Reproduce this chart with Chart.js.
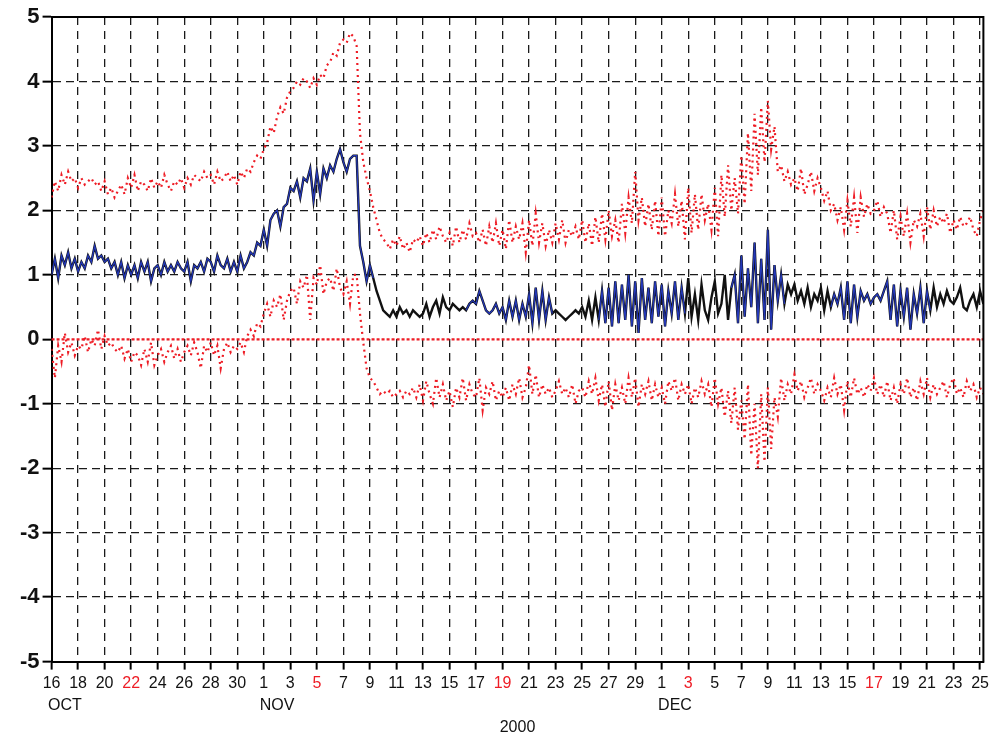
<!DOCTYPE html>
<html>
<head>
<meta charset="utf-8">
<script src="https://cdn.jsdelivr.net/npm/chart.js@4/dist/chart.umd.min.js"></script>
<style>
  body { margin: 0; background: #fff; }
  #wrap { width: 993px; height: 741px; }
</style>
</head>
<body>
<div id="wrap"><canvas id="myChart" width="993" height="741"></canvas></div>
<script>
// 6-hourly values, 4 per day, starting 16 Oct 2000 00Z
const stepDays = 0.25;

const xTickLabels = ['16','18','20','22','24','26','28','30',
  '1','3','5','7','9','11','13','15','17','19','21','23','25','27','29',
  '1','3','5','7','9','11','13','15','17','19','21','23','25'];
const redTicks = [3, 10, 17, 24, 31]; // sundays
const yTickLabels = ['-5','-4','-3','-2','-1','0','1','2','3','4','5'];

// ensemble mean (black)
const meanVals = [
  1.0,1.25,0.95,1.3, 1.15,1.35,1.1,1.25,
  1.05,1.2,1.1,1.3, 1.2,1.45,1.25,1.3,
  1.2,1.25,1.1,1.2, 1.0,1.2,0.95,1.15,
  1.0,1.15,0.95,1.2, 1.05,1.2,0.9,1.1,
  1.15,1.0,1.2,1.05, 1.15,1.05,1.2,1.1,
  1.05,1.2,0.9,1.15, 1.1,1.2,1.05,1.25,
  1.2,1.05,1.3,1.15, 1.1,1.25,1.05,1.2,
  1.05,1.3,1.1,1.2, 1.35,1.3,1.5,1.45,
  1.7,1.45,1.85,1.95, 2.0,1.75,2.05,2.1,
  2.35,2.3,2.45,2.2, 2.5,2.45,2.65,2.15,
  2.6,2.25,2.65,2.5, 2.7,2.6,2.8,2.95,
  2.75,2.6,2.8,2.85, 2.85,1.45,1.2,0.9,
  1.15,0.95,0.75,0.6, 0.45,0.4,0.35,0.45,
  0.35,0.5,0.4,0.45, 0.35,0.45,0.4,0.35,
  0.4,0.55,0.35,0.5, 0.6,0.4,0.65,0.5,
  0.45,0.55,0.5,0.45, 0.5,0.45,0.55,0.6,
  0.55,0.75,0.6,0.45, 0.4,0.45,0.55,0.4,
  0.5,0.3,0.6,0.35, 0.6,0.3,0.55,0.35,
  0.7,0.25,0.8,0.3, 0.75,0.3,0.65,0.4,
  0.45,0.4,0.35,0.3, 0.35,0.4,0.45,0.4,
  0.5,0.35,0.6,0.3, 0.65,0.3,0.75,0.25,
  0.8,0.2,0.9,0.25, 0.85,0.3,1.0,0.2,
  0.9,0.1,0.95,0.3, 0.8,0.25,0.9,0.35,
  0.85,0.2,0.75,0.4, 0.9,0.3,0.8,0.4,
  0.95,0.35,0.7,0.3, 0.85,0.45,0.3,0.65,
  0.9,0.4,0.55,1.0, 0.3,0.8,1.0,0.25,
  1.3,0.35,1.1,0.5, 1.5,0.25,1.25,0.3,
  1.7,0.15,1.15,0.6, 1.0,0.55,0.85,0.7,
  0.85,0.6,0.75,0.55, 0.8,0.5,0.7,0.6,
  0.8,0.45,0.75,0.5, 0.7,0.55,0.8,0.3,
  0.9,0.25,0.85,0.35, 0.75,0.6,0.7,0.55,
  0.65,0.7,0.6,0.75, 0.9,0.3,0.85,0.2,
  0.75,0.35,0.8,0.15, 0.7,0.4,0.8,0.25,
  0.75,0.45,0.8,0.5, 0.7,0.55,0.75,0.6,
  0.55,0.65,0.8,0.5, 0.45,0.6,0.7,0.5,
  0.75,0.55,0.6
];

// days where only the black curve shows (no blue)
const blueGaps = [[24.5, 31], [38, 41], [48, 51], [55.5, 58.5], [66.5, 71]];

// mean + spread (red, upper)
const upperVals = [
  2.2,2.45,2.3,2.55, 2.4,2.6,2.45,2.5,
  2.35,2.5,2.4,2.45, 2.5,2.4,2.45,2.3,
  2.45,2.25,2.35,2.2, 2.3,2.4,2.25,2.5,
  2.35,2.55,2.3,2.45, 2.4,2.3,2.5,2.35,
  2.45,2.35,2.55,2.4, 2.3,2.45,2.4,2.5,
  2.35,2.5,2.4,2.55, 2.5,2.45,2.6,2.5,
  2.55,2.4,2.6,2.45, 2.5,2.6,2.45,2.55,
  2.4,2.6,2.5,2.65, 2.6,2.75,2.85,2.8,
  2.95,3.05,3.3,3.2, 3.45,3.6,3.5,3.75,
  3.85,3.9,4.0,3.95, 4.05,4.0,3.9,4.05,
  3.95,4.1,4.05,4.25, 4.3,4.45,4.4,4.6,
  4.65,4.6,4.75,4.7, 4.55,3.2,2.75,2.5,
  2.3,2.05,1.85,1.65, 1.55,1.5,1.4,1.55,
  1.45,1.6,1.4,1.5, 1.35,1.55,1.5,1.6,
  1.45,1.65,1.5,1.7, 1.55,1.75,1.6,1.5,
  1.65,1.45,1.75,1.5, 1.7,1.55,1.8,1.6,
  1.65,1.5,1.7,1.45, 1.75,1.5,1.8,1.45,
  1.7,1.4,1.85,1.5, 1.75,1.55,1.8,1.35,
  1.85,1.45,1.95,1.5, 1.8,1.45,1.7,1.5,
  1.8,1.55,1.85,1.5, 1.7,1.6,1.75,1.55,
  1.85,1.5,1.8,1.45, 1.9,1.5,1.95,1.55,
  2.0,1.6,1.85,1.5, 2.1,1.65,2.2,1.8,
  2.6,1.85,2.2,1.75, 2.1,1.7,2.15,1.6,
  2.2,1.6,2.0,1.8, 2.25,1.75,2.15,1.55,
  2.35,1.65,2.25,1.7, 2.25,1.85,2.1,1.7,
  2.35,1.6,2.55,1.9, 2.7,2.0,2.5,1.95,
  2.85,2.1,3.2,2.3, 3.5,2.55,3.6,2.75,
  3.7,2.95,3.3,2.6, 2.7,2.45,2.6,2.4,
  2.5,2.3,2.65,2.25, 2.4,2.6,2.3,2.5,
  2.35,2.15,2.3,2.0, 2.1,1.85,2.05,1.7,
  2.15,1.75,2.2,1.65, 2.2,1.9,2.1,1.95,
  2.0,2.15,1.9,2.05, 1.95,1.65,2.0,1.55,
  1.9,1.6,1.95,1.5, 1.85,1.75,1.95,1.6,
  2.05,1.7,2.0,1.75, 1.9,1.8,1.95,1.65,
  1.85,1.7,1.9,1.75, 1.8,1.9,1.7,1.6,
  1.85,2.0,1.8
];

// mean - spread (red, lower)
const lowerVals = [
  -0.15,-0.6,-0.1,-0.35, 0.1,-0.2,-0.05,-0.25,
  -0.1,-0.15,0.05,-0.2, 0.0,-0.1,0.15,-0.15,
  0.05,-0.1,-0.05,-0.15, -0.2,-0.1,-0.3,-0.15,
  -0.35,-0.2,-0.25,-0.4, -0.15,-0.35,-0.05,-0.4,
  -0.25,-0.15,-0.35,-0.2, -0.1,-0.3,-0.15,-0.35,
  -0.2,-0.1,-0.25,-0.05, -0.2,-0.45,-0.1,-0.2,
  -0.05,-0.25,-0.1,-0.45, -0.15,-0.05,-0.2,-0.1,
  -0.15,-0.05,-0.2,0.05, 0.15,0.05,0.25,0.2,
  0.4,0.55,0.35,0.6, 0.5,0.7,0.3,0.6,
  0.75,0.8,0.55,0.9, 0.8,1.0,0.3,0.95,
  0.85,1.15,0.7,0.9, 0.95,0.75,1.1,0.8,
  0.7,0.9,0.55,1.0, 1.0,0.4,-0.05,-0.45,
  -0.6,-0.65,-0.75,-0.85, -0.8,-0.85,-0.8,-0.9,
  -0.85,-0.8,-0.9,-0.8, -0.85,-0.75,-0.9,-0.7,
  -0.95,-0.65,-0.85,-1.0, -0.6,-0.9,-0.7,-0.95,
  -0.8,-1.05,-0.75,-0.9, -0.6,-0.95,-0.7,-0.85,
  -0.9,-0.6,-1.1,-0.75, -0.85,-0.65,-0.95,-0.8,
  -0.9,-0.75,-0.95,-0.7, -0.85,-0.6,-0.9,-0.75,
  -0.4,-0.85,-0.55,-0.9, -0.7,-0.85,-0.75,-0.9,
  -0.8,-0.65,-0.85,-0.75, -0.9,-0.7,-1.0,-0.8,
  -0.75,-0.9,-0.65,-0.85, -0.6,-0.95,-0.7,-1.05,
  -0.65,-1.1,-0.7,-0.95, -0.75,-1.0,-0.6,-0.9,
  -0.6,-1.05,-0.7,-0.85, -0.65,-0.95,-0.7,-0.9,
  -0.75,-1.0,-0.65,-0.8, -0.6,-0.95,-0.7,-0.85,
  -0.7,-1.0,-0.75,-0.9, -0.65,-0.85,-0.7,-1.05,
  -0.6,-1.0,-0.75,-1.2, -0.8,-1.3,-0.75,-1.4,
  -0.95,-1.55,-0.7,-1.8, -1.0,-2.0,-0.85,-1.9,
  -0.75,-1.7,-0.9,-1.2, -0.6,-0.95,-0.7,-0.85,
  -0.55,-0.8,-0.65,-0.9, -0.75,-0.6,-0.85,-0.7,
  -0.8,-0.95,-0.75,-0.9, -0.6,-0.85,-0.7,-1.1,
  -0.65,-0.9,-0.6,-0.85, -0.75,-0.9,-0.7,-0.8,
  -0.6,-0.85,-0.7,-0.9, -0.65,-0.95,-0.75,-1.0,
  -0.7,-0.85,-0.6,-0.9, -0.75,-0.95,-0.65,-0.85,
  -0.6,-0.9,-0.7,-0.85, -0.75,-0.65,-0.9,-0.7,
  -0.6,-0.85,-0.75,-0.9, -0.65,-0.8,-0.7,-0.9,
  -0.75,-0.85,-0.8
];

function toPoints(vals) {
  return vals.map((v, i) => ({ x: i * stepDays, y: v }));
}
function inGap(d) {
  return blueGaps.some(g => d >= g[0] && d <= g[1]);
}

const FONT = '"Liberation Sans", Arial, Helvetica, sans-serif';
const dashColor = '#1a1a1a';
const red = '#ee1c25';

// frame, zero line and month names
const extras = {
  id: 'extras',
  beforeDatasetsDraw(chart) {
    const { ctx, chartArea: a, scales } = chart;
    const y0 = scales.y.getPixelForValue(0);
    ctx.save();
    ctx.strokeStyle = red;
    ctx.lineWidth = 2.2;
    ctx.setLineDash([3, 2]);
    ctx.beginPath();
    ctx.moveTo(a.left, y0);
    ctx.lineTo(a.right, y0);
    ctx.stroke();
    ctx.restore();
  },
  afterDraw(chart) {
    const { ctx, chartArea: a, scales } = chart;
    ctx.save();
    ctx.strokeStyle = '#000';
    ctx.lineWidth = 2;
    ctx.beginPath();
    ctx.moveTo(a.left, a.top);
    ctx.lineTo(a.right, a.top);
    ctx.lineTo(a.right, a.bottom);
    ctx.stroke();
    ctx.fillStyle = '#111';
    ctx.font = '16px ' + FONT;
    ctx.textAlign = 'center';
    ctx.textBaseline = 'middle';
    [['OCT', 1], ['NOV', 17], ['DEC', 47]].forEach(function(m) {
      ctx.fillText(m[0], scales.x.getPixelForValue(m[1]), a.bottom + 44);
    });
    ctx.restore();
  }
};

const ctx = document.getElementById('myChart');
// first dataset is drawn on top
new Chart(ctx, {
  type: 'line',
  data: {
    datasets: [
      {
        label: 'blue',
        data: toPoints(meanVals).map(p => ({ x: p.x, y: inGap(p.x) ? null : p.y })),
        borderColor: '#2438b8',
        borderWidth: 1.3,
        pointRadius: 0,
        spanGaps: false,
        fill: false
      },
      {
        label: 'mean',
        data: toPoints(meanVals),
        borderColor: '#111',
        borderWidth: 2.4,
        pointRadius: 0,
        fill: false
      },
      {
        label: 'upper',
        data: toPoints(upperVals),
        borderColor: red,
        borderWidth: 2.2,
        borderDash: [2, 4],
        pointRadius: 0,
        fill: false
      },
      {
        label: 'lower',
        data: toPoints(lowerVals),
        borderColor: red,
        borderWidth: 2.2,
        borderDash: [2, 4],
        pointRadius: 0,
        fill: false
      }
    ]
  },
  options: {
    responsive: false,
    animation: false,
    layout: { padding: { left: 17, right: 7, top: 17, bottom: 2 } },
    plugins: {
      legend: { display: false },
      tooltip: { enabled: false }
    },
    scales: {
      x: {
        type: 'linear',
        min: 0,
        max: 70.25,
        border: { display: true, color: '#000', width: 2, dash: [8, 6] },
        grid: {
          color: dashColor,
          lineWidth: 1.3,
          tickLength: 8,
          tickColor: '#000',
          tickWidth: 2
        },
        ticks: {
          stepSize: 2,
          includeBounds: false,
          autoSkip: false,
          maxRotation: 0,
          padding: 4,
          font: { family: FONT, size: 16 },
          color: (c) => redTicks.includes(c.index) ? red : '#111',
          callback: (value) => xTickLabels[Math.round(value / 2)]
        },
        title: {
          display: true,
          text: '2000',
          color: '#111',
          font: { family: FONT, size: 16 },
          padding: { top: 21, bottom: 2 }
        }
      },
      y: {
        min: -5,
        max: 5,
        border: { display: true, color: '#000', width: 2, dash: [8, 5] },
        grid: {
          color: (c) => c.tick && c.tick.value === 0 ? 'rgba(0,0,0,0)' : dashColor,
          lineWidth: 1.3,
          tickLength: 9,
          tickColor: '#000',
          tickWidth: 2
        },
        ticks: {
          stepSize: 1,
          padding: 3,
          font: { family: FONT, size: 22, weight: 'bold' },
          color: '#111',
          callback: (value) => yTickLabels[value + 5]
        }
      }
    }
  },
  plugins: [extras]
});
</script>
</body>
</html>
